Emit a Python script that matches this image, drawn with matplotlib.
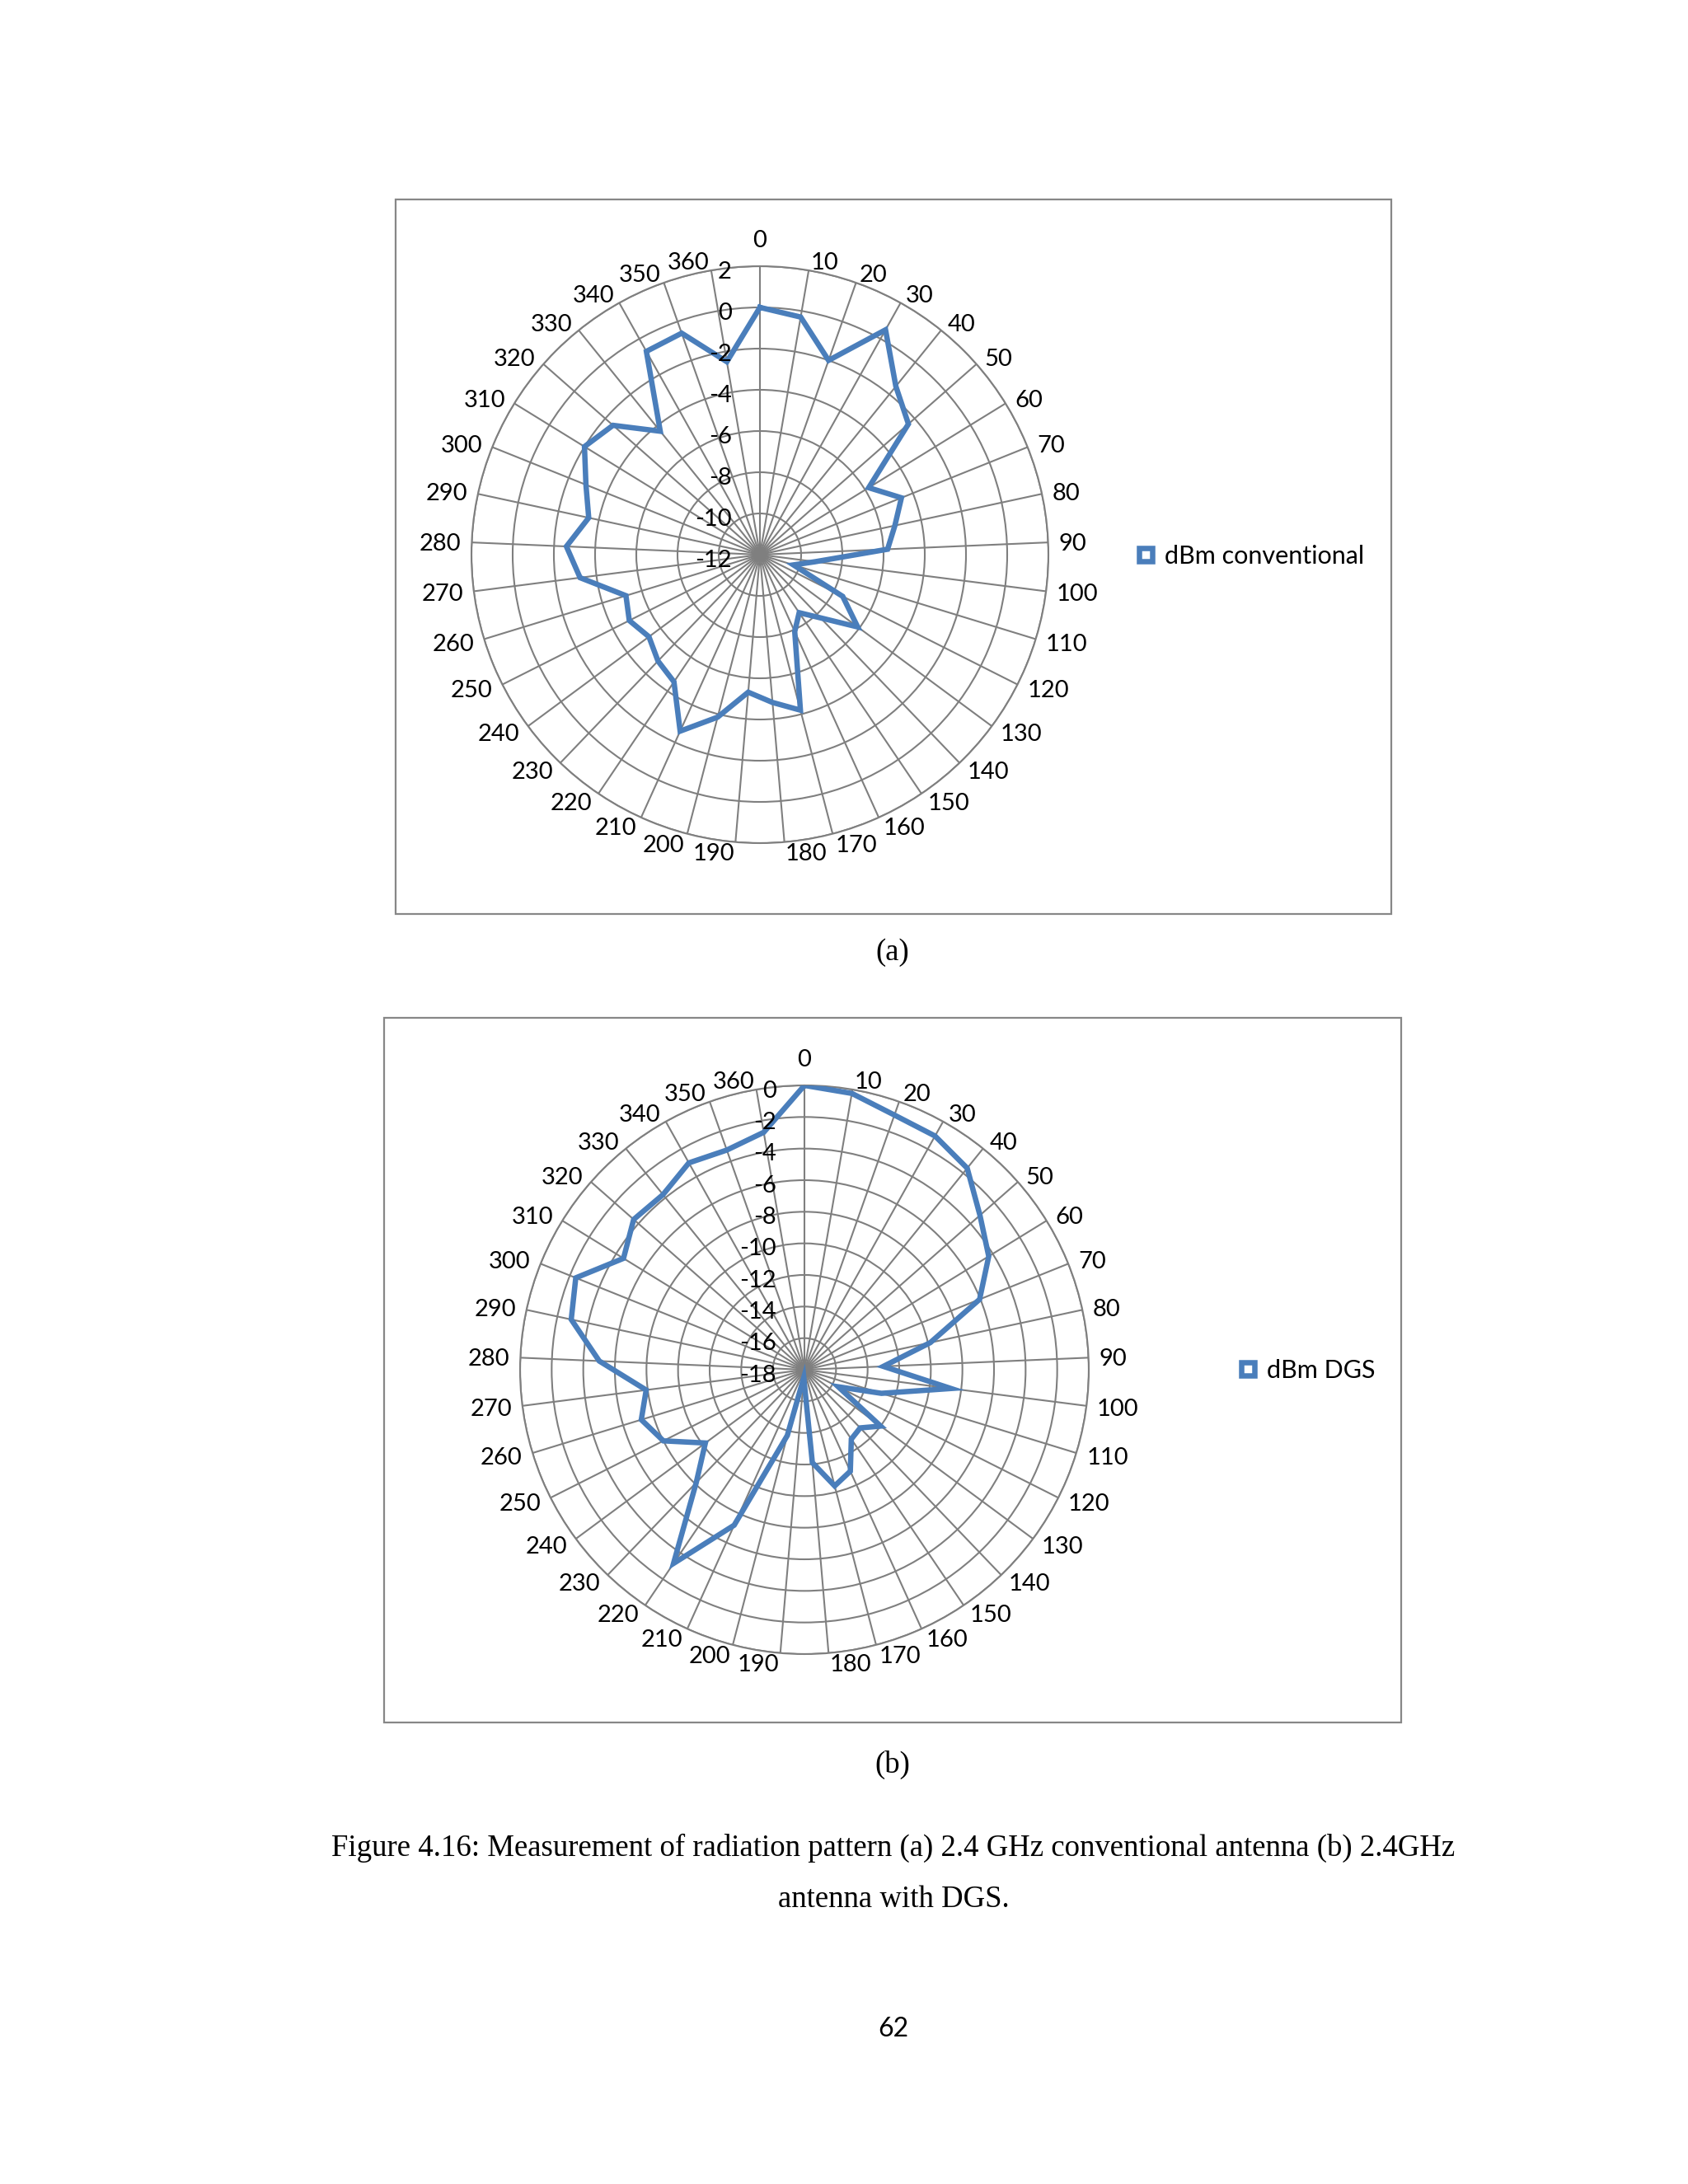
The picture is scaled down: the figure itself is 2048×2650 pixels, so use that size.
import numpy as np
import matplotlib
matplotlib.use("Agg")
import matplotlib.pyplot as plt
from matplotlib.lines import Line2D
from matplotlib.patches import Rectangle

plt.rcParams['font.family'] = ['Lato', 'DejaVu Sans']

W, H = 2048, 2650   # page size in pixels (dpi 100)

# --------------------------
# Data
# --------------------------
angles_deg = list(range(0, 361, 10))            # 37 categories, 0..360
angle_labels = [str(a) for a in angles_deg]

dbm_conventional = [0.0, -0.3, -2.0, 0.5, -1.5, -2.4, -5.8, -4.6, -5.3, -5.8,
                    -9.3, -10.3, -7.5, -6.1, -7.75, -8.6, -7.9, -4.2, -4.8, -5.3,
                    -3.85, -2.6, -4.55, -4.85, -5.3, -4.9, -5.2, -3.2, -2.6, -3.5,
                    -2.9, -2.0, -2.5, -4.3, -0.7, -0.6, -2.5]

dbm_dgs = [0.0, -0.25, -0.9, -1.05, -1.6, -3.2, -4.3, -6.05, -9.85, -13.0,
           -8.65, -12.9, -15.6, -12.0, -12.9, -12.7, -10.95, -10.4, -12.1, -17.5,
           -13.7, -7.2, -3.2, -8.1, -10.2, -8.0, -7.2, -7.9, -5.0, -2.9,
           -2.4, -4.55, -3.6, -3.75, -3.0, -3.25, -2.75]

rticks_conv = list(range(-12, 3, 2))
rticks_dgs = list(range(-18, 1, 2))

LINE_BLUE = '#4A7EBB'
GRID = '#7f7f7f'
PX = 0.72  # points per pixel at dpi 100
LABEL_FS = 21


def fig_xy(x, y):
    return x / W, 1 - y / H


def radar(fig, cx, cy, rad, values, rticks, label, leg_x, leg_y):
    rect = [(cx - rad) / W, 1 - (cy + rad) / H, 2 * rad / W, 2 * rad / H]
    ax = fig.add_axes(rect, projection='polar')
    ax.set_theta_zero_location('N')
    ax.set_theta_direction(-1)
    n = len(values)
    theta = np.arange(n) * 2 * np.pi / n
    ax.set_ylim(rticks[0], rticks[-1])
    ax.set_xticks(theta)
    ax.set_xticklabels([])
    ax.set_yticks(rticks[1:])
    ax.set_yticklabels([])
    ax.tick_params(length=0)
    ax.grid(True, color=GRID, lw=1.5)
    ax.spines['polar'].set_color(GRID)
    ax.spines['polar'].set_linewidth(1.5)

    ax.plot(np.append(theta, theta[0]), np.append(values, values[0]),
            color=LINE_BLUE, lw=4.7, solid_joinstyle='miter', zorder=3)

    # category labels, Excel-ish anchoring around the outer ring
    for t, lab in zip(theta, angle_labels):
        s, c = np.sin(t), np.cos(t)
        if abs(s) < 0.01:
            ha, off = 'center', (0, 34)
        else:
            ha = 'left' if s > 0 else 'right'
            off = (13 * s, 12 * c)
        ax.annotate(lab, (t, rticks[-1]), xytext=(off[0] * PX, off[1] * PX),
                    textcoords='offset points', ha=ha, va='center_baseline',
                    fontsize=LABEL_FS, annotation_clip=False)

    # value labels along the 0 spoke
    for r in rticks:
        ax.annotate(str(r), (0, r), xytext=(-34 * PX, -4 * PX),
                    textcoords='offset points', ha='right', va='center_baseline',
                    fontsize=LABEL_FS, zorder=5, annotation_clip=False)

    proxy = Line2D([], [], ls='none', marker='s', ms=11.9, mfc='white',
                   mec=LINE_BLUE, mew=4.7)
    ax.legend(handles=[proxy], labels=[label], loc='center left',
              bbox_to_anchor=fig_xy(leg_x, leg_y), bbox_transform=fig.transFigure,
              frameon=False, fontsize=22, handlelength=0.9, handletextpad=0.3,
              borderpad=0, borderaxespad=0)
    return ax


def chart_box(fig, x0, y0, x1, y1):
    fig.add_artist(Rectangle((x0 / W, 1 - y1 / H), (x1 - x0) / W, (y1 - y0) / H,
                             transform=fig.transFigure, fill=False,
                             ec='#878787', lw=1.6))


fig = plt.figure(figsize=(W / 100, H / 100), dpi=100)

chart_box(fig, 480, 242, 1688, 1109)
radar(fig, 922, 673, 350, dbm_conventional, rticks_conv, 'dBm conventional', 1376, 675)

chart_box(fig, 466, 1235, 1700, 2090)
radar(fig, 976, 1662, 345, dbm_dgs, rticks_dgs, 'dBm DGS', 1500, 1663)

serif = ['Liberation Serif', 'DejaVu Serif']
fig.text(*fig_xy(1083, 1156), '(a)', ha='center', va='center', family=serif, fontsize=26.5)
fig.text(*fig_xy(1083, 2141), '(b)', ha='center', va='center', family=serif, fontsize=26.5)
fig.text(*fig_xy(1084, 2242),
         'Figure 4.16: Measurement of radiation pattern (a) 2.4 GHz conventional antenna (b) 2.4GHz',
         ha='center', va='center', family=serif, fontsize=26.5)
fig.text(*fig_xy(1084, 2305), 'antenna with DGS.', ha='center', va='center',
         family=serif, fontsize=26.5)
fig.text(*fig_xy(1084, 2462), '62', ha='center', va='center', fontsize=23)

fig.savefig('out.png', dpi=100, facecolor='white')
